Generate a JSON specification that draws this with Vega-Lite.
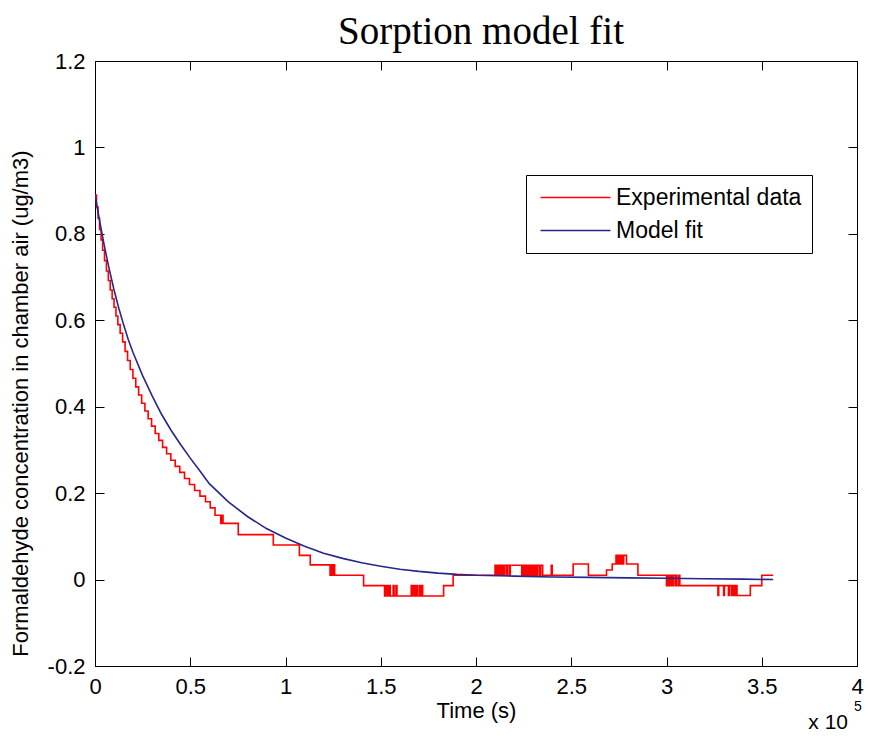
{
  "$schema": "https://vega.github.io/schema/vega-lite/v6.json",
  "autosize": {"type": "none"},
  "width": 762,
  "height": 605,
  "padding": {"left": 95, "top": 61, "right": 13, "bottom": 72},
  "background": "white",
  "title": {"text": "Sorption model fit", "font": "Liberation Serif", "fontSize": 39, "fontWeight": "normal", "color": "black", "anchor": "middle", "offset": -2, "dx": 5},
  "config": {
    "view": {"stroke": "black", "strokeWidth": 1},
    "axis": {"domainColor": "black", "domainWidth": 1, "tickColor": "black", "tickWidth": 1, "tickSize": -9, "labelColor": "black", "titleColor": "black", "labelFont": "Liberation Sans", "labelFontSize": 22, "titleFont": "Liberation Sans", "titleFontSize": 22, "titleFontWeight": "normal", "grid": false, "labelFlush": false, "labelOverlap": false}
  },
  "datasets": {
    "experimental": [
      {"time_s": 0, "conc": 0.890}, {"time_s": 800, "conc": 0.862}, {"time_s": 1600, "conc": 0.836}, {"time_s": 2400, "conc": 0.810},
      {"time_s": 3200, "conc": 0.786}, {"time_s": 4000, "conc": 0.762}, {"time_s": 5000, "conc": 0.738}, {"time_s": 6000, "conc": 0.714},
      {"time_s": 7000, "conc": 0.692}, {"time_s": 8000, "conc": 0.670}, {"time_s": 9000, "conc": 0.650}, {"time_s": 10000, "conc": 0.630},
      {"time_s": 11000, "conc": 0.610}, {"time_s": 12000, "conc": 0.590}, {"time_s": 13200, "conc": 0.570}, {"time_s": 14500, "conc": 0.550},
      {"time_s": 15800, "conc": 0.528}, {"time_s": 17100, "conc": 0.507}, {"time_s": 18500, "conc": 0.486}, {"time_s": 19900, "conc": 0.466},
      {"time_s": 21400, "conc": 0.446}, {"time_s": 22900, "conc": 0.427}, {"time_s": 24500, "conc": 0.408}, {"time_s": 26200, "conc": 0.390},
      {"time_s": 27900, "conc": 0.372}, {"time_s": 29700, "conc": 0.355}, {"time_s": 31600, "conc": 0.338}, {"time_s": 33500, "conc": 0.322},
      {"time_s": 35500, "conc": 0.306}, {"time_s": 37600, "conc": 0.291}, {"time_s": 39800, "conc": 0.276}, {"time_s": 42100, "conc": 0.262},
      {"time_s": 44500, "conc": 0.248}, {"time_s": 47000, "conc": 0.234}, {"time_s": 49600, "conc": 0.220}, {"time_s": 52300, "conc": 0.206},
      {"time_s": 55100, "conc": 0.193}, {"time_s": 58000, "conc": 0.180}, {"time_s": 60500, "conc": 0.166}, {"time_s": 63000, "conc": 0.149},
      {"time_s": 66000, "conc": 0.130}, {"time_s": 66300, "conc": 0.149}, {"time_s": 66600, "conc": 0.130}, {"time_s": 66900, "conc": 0.149},
      {"time_s": 67200, "conc": 0.130}, {"time_s": 75200, "conc": 0.104}, {"time_s": 93600, "conc": 0.080}, {"time_s": 107300, "conc": 0.056},
      {"time_s": 113000, "conc": 0.034}, {"time_s": 123400, "conc": 0.010}, {"time_s": 123800, "conc": 0.034}, {"time_s": 124200, "conc": 0.010},
      {"time_s": 124600, "conc": 0.034}, {"time_s": 125000, "conc": 0.010}, {"time_s": 125400, "conc": 0.034}, {"time_s": 125800, "conc": 0.010},
      {"time_s": 141000, "conc": -0.014}, {"time_s": 152000, "conc": -0.038}, {"time_s": 152500, "conc": -0.014}, {"time_s": 153000, "conc": -0.038},
      {"time_s": 153500, "conc": -0.014}, {"time_s": 154000, "conc": -0.038}, {"time_s": 154500, "conc": -0.014}, {"time_s": 155000, "conc": -0.038},
      {"time_s": 156500, "conc": -0.014}, {"time_s": 157000, "conc": -0.038}, {"time_s": 158000, "conc": -0.014}, {"time_s": 158500, "conc": -0.038},
      {"time_s": 166000, "conc": -0.014}, {"time_s": 166500, "conc": -0.038}, {"time_s": 167000, "conc": -0.014}, {"time_s": 167500, "conc": -0.038},
      {"time_s": 168000, "conc": -0.014}, {"time_s": 168500, "conc": -0.038}, {"time_s": 169000, "conc": -0.014}, {"time_s": 169500, "conc": -0.038},
      {"time_s": 170500, "conc": -0.014}, {"time_s": 171000, "conc": -0.038}, {"time_s": 171500, "conc": -0.014}, {"time_s": 172000, "conc": -0.038},
      {"time_s": 183000, "conc": -0.014}, {"time_s": 188000, "conc": 0.010},
      {"time_s": 210000, "conc": 0.033}, {"time_s": 210500, "conc": 0.010}, {"time_s": 211000, "conc": 0.033}, {"time_s": 211500, "conc": 0.010},
      {"time_s": 212000, "conc": 0.033}, {"time_s": 212500, "conc": 0.010}, {"time_s": 213000, "conc": 0.033}, {"time_s": 213500, "conc": 0.010},
      {"time_s": 214000, "conc": 0.033}, {"time_s": 214500, "conc": 0.010}, {"time_s": 215000, "conc": 0.033}, {"time_s": 216000, "conc": 0.010},
      {"time_s": 216500, "conc": 0.033}, {"time_s": 217500, "conc": 0.010}, {"time_s": 218000, "conc": 0.033},
      {"time_s": 224000, "conc": 0.010}, {"time_s": 224500, "conc": 0.033}, {"time_s": 225000, "conc": 0.010}, {"time_s": 225500, "conc": 0.033},
      {"time_s": 226000, "conc": 0.010}, {"time_s": 226500, "conc": 0.033}, {"time_s": 227000, "conc": 0.010}, {"time_s": 227500, "conc": 0.033},
      {"time_s": 228000, "conc": 0.010}, {"time_s": 228500, "conc": 0.033}, {"time_s": 229000, "conc": 0.010}, {"time_s": 229500, "conc": 0.033},
      {"time_s": 230000, "conc": 0.010}, {"time_s": 230500, "conc": 0.033}, {"time_s": 231000, "conc": 0.010}, {"time_s": 231500, "conc": 0.033},
      {"time_s": 232000, "conc": 0.010}, {"time_s": 232500, "conc": 0.033}, {"time_s": 233500, "conc": 0.010}, {"time_s": 234000, "conc": 0.033},
      {"time_s": 235000, "conc": 0.010}, {"time_s": 239500, "conc": 0.033}, {"time_s": 240000, "conc": 0.010},
      {"time_s": 251000, "conc": 0.036}, {"time_s": 259000, "conc": 0.010}, {"time_s": 268500, "conc": 0.022}, {"time_s": 271500, "conc": 0.036},
      {"time_s": 273500, "conc": 0.056}, {"time_s": 274000, "conc": 0.036}, {"time_s": 274500, "conc": 0.056}, {"time_s": 275000, "conc": 0.036},
      {"time_s": 275500, "conc": 0.056}, {"time_s": 276000, "conc": 0.036}, {"time_s": 276500, "conc": 0.056}, {"time_s": 277000, "conc": 0.036},
      {"time_s": 277500, "conc": 0.056}, {"time_s": 279000, "conc": 0.036}, {"time_s": 285000, "conc": 0.010},
      {"time_s": 300000, "conc": -0.014}, {"time_s": 300500, "conc": 0.010}, {"time_s": 301000, "conc": -0.014}, {"time_s": 301500, "conc": 0.010},
      {"time_s": 302000, "conc": -0.014}, {"time_s": 302500, "conc": 0.010}, {"time_s": 303000, "conc": -0.014}, {"time_s": 303500, "conc": 0.010},
      {"time_s": 304500, "conc": -0.014}, {"time_s": 305000, "conc": 0.010}, {"time_s": 305500, "conc": -0.014}, {"time_s": 306500, "conc": 0.010},
      {"time_s": 307000, "conc": -0.014},
      {"time_s": 327000, "conc": -0.037}, {"time_s": 327400, "conc": -0.014}, {"time_s": 330000, "conc": -0.037}, {"time_s": 330400, "conc": -0.014},
      {"time_s": 332500, "conc": -0.037}, {"time_s": 332900, "conc": -0.014}, {"time_s": 334000, "conc": -0.037}, {"time_s": 334500, "conc": -0.014},
      {"time_s": 335000, "conc": -0.037}, {"time_s": 335500, "conc": -0.014}, {"time_s": 336000, "conc": -0.037}, {"time_s": 336500, "conc": -0.014},
      {"time_s": 337000, "conc": -0.037}, {"time_s": 344000, "conc": -0.014}, {"time_s": 350000, "conc": 0.010}, {"time_s": 356000, "conc": 0.010}
    ],
    "model": [
      {"time_s": 0, "conc": 0.890}, {"time_s": 2500, "conc": 0.828}, {"time_s": 5000, "conc": 0.770}, {"time_s": 7500, "conc": 0.718},
      {"time_s": 10000, "conc": 0.670}, {"time_s": 12500, "conc": 0.628}, {"time_s": 15000, "conc": 0.590}, {"time_s": 17500, "conc": 0.555},
      {"time_s": 20000, "conc": 0.525}, {"time_s": 25000, "conc": 0.472}, {"time_s": 30000, "conc": 0.425}, {"time_s": 35000, "conc": 0.382},
      {"time_s": 40000, "conc": 0.345}, {"time_s": 45000, "conc": 0.312}, {"time_s": 50000, "conc": 0.281}, {"time_s": 55000, "conc": 0.252},
      {"time_s": 60000, "conc": 0.222}, {"time_s": 70000, "conc": 0.180}, {"time_s": 80000, "conc": 0.146}, {"time_s": 90000, "conc": 0.118},
      {"time_s": 100000, "conc": 0.096}, {"time_s": 110000, "conc": 0.077}, {"time_s": 120000, "conc": 0.061}, {"time_s": 130000, "conc": 0.049},
      {"time_s": 140000, "conc": 0.039}, {"time_s": 150000, "conc": 0.031}, {"time_s": 160000, "conc": 0.024}, {"time_s": 170000, "conc": 0.019},
      {"time_s": 180000, "conc": 0.015}, {"time_s": 190000, "conc": 0.012}, {"time_s": 200000, "conc": 0.010}, {"time_s": 220000, "conc": 0.008},
      {"time_s": 240000, "conc": 0.006}, {"time_s": 260000, "conc": 0.005}, {"time_s": 280000, "conc": 0.004}, {"time_s": 300000, "conc": 0.003},
      {"time_s": 320000, "conc": 0.002}, {"time_s": 340000, "conc": 0.001}, {"time_s": 356000, "conc": 0.000}
    ],
    "note": [{"time_s": 400000, "conc": -0.2, "label": "x 10", "exponent": "5"}]
  },
  "layer": [
    {
      "data": {"name": "experimental"},
      "mark": {"type": "line", "interpolate": "step-after", "strokeWidth": 1.6, "clip": true},
      "encoding": {
        "x": {"field": "time_s", "type": "quantitative", "scale": {"domain": [0, 400000], "nice": false},
          "axis": {"orient": "bottom", "values": [0, 50000, 100000, 150000, 200000, 250000, 300000, 350000, 400000], "labelExpr": "'' + (datum.value / 100000)", "title": "Time (s)", "labelPadding": 19, "titlePadding": 3}},
        "y": {"field": "conc", "type": "quantitative", "scale": {"domain": [-0.2, 1.2], "nice": false},
          "axis": {"orient": "left", "values": [-0.2, 0, 0.2, 0.4, 0.6, 0.8, 1, 1.2], "labelExpr": "'' + datum.value", "title": "Formaldehyde concentration in chamber air (ug/m3)", "labelPadding": 19, "titleX": -75, "titleY": 342, "titleAngle": 270, "titleAlign": "center", "titleBaseline": "middle"}},
        "color": {"datum": "Experimental data", "type": "nominal",
          "scale": {"domain": ["Experimental data", "Model fit"], "range": ["#ff0000", "#26268c"]},
          "legend": {"title": null, "orient": "none", "legendX": 431, "legendY": 114, "symbolType": "M-3,0H3", "symbolSize": 544, "symbolStrokeWidth": 1.5, "symbolOffset": 27, "labelFont": "Liberation Sans", "labelFontSize": 23, "labelColor": "black", "labelOffset": 28, "padding": 10, "rowPadding": 8, "strokeColor": "black", "fillColor": "white", "cornerRadius": 0, "labelLimit": 400}}
      }
    },
    {
      "data": {"name": "model"},
      "mark": {"type": "line", "strokeWidth": 1.6, "clip": true},
      "encoding": {
        "x": {"field": "time_s", "type": "quantitative",
          "axis": {"orient": "top", "values": [0, 50000, 100000, 150000, 200000, 250000, 300000, 350000, 400000], "labels": false, "title": null}},
        "y": {"field": "conc", "type": "quantitative",
          "axis": {"orient": "right", "values": [-0.2, 0, 0.2, 0.4, 0.6, 0.8, 1, 1.2], "labels": false, "title": null}},
        "color": {"datum": "Model fit", "type": "nominal"}
      }
    },
    {
      "data": {"name": "note"},
      "mark": {"type": "text", "align": "right", "baseline": "alphabetic", "dx": -9, "dy": 63, "font": "Liberation Sans", "fontSize": 21, "color": "black"},
      "encoding": {
        "x": {"field": "time_s", "type": "quantitative", "axis": null},
        "y": {"field": "conc", "type": "quantitative", "axis": null},
        "text": {"field": "label"}
      }
    },
    {
      "data": {"name": "note"},
      "mark": {"type": "text", "align": "left", "baseline": "alphabetic", "dx": -3, "dy": 45, "font": "Liberation Sans", "fontSize": 14, "color": "black"},
      "encoding": {
        "x": {"field": "time_s", "type": "quantitative", "axis": null},
        "y": {"field": "conc", "type": "quantitative", "axis": null},
        "text": {"field": "exponent"}
      }
    }
  ],
  "resolve": {"axis": {"x": "independent", "y": "independent"}}
}
